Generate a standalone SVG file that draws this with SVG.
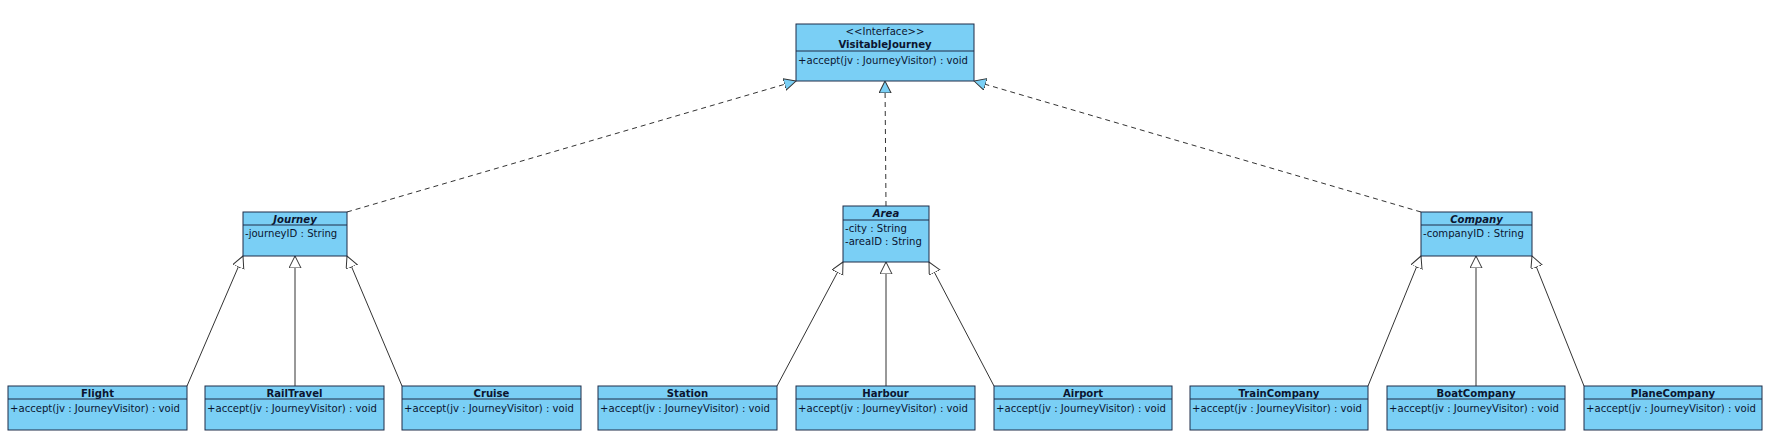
<svg xmlns="http://www.w3.org/2000/svg" width="1769" height="443" viewBox="0 0 1769 443">
<style>
.box{fill:#7ACFF5;stroke:#1E2C48;stroke-width:1}
.sep{stroke:#1E2C48;stroke-width:1}
text{font-family:"DejaVu Sans","Liberation Sans",Arial,sans-serif;font-size:10.1px;fill:#0B1530}
.nm{font-weight:bold;text-anchor:middle}
.it{font-style:italic}
.st{text-anchor:middle}
.gen{stroke:#333;stroke-width:1;fill:none;marker-end:url(#tri)}
.real{stroke:#333;stroke-width:1;fill:none;stroke-dasharray:5,4;marker-end:url(#tri2)}
</style>
<defs>
<marker id="tri" markerUnits="userSpaceOnUse" markerWidth="14" markerHeight="14" refX="12" refY="6" orient="auto">
<path d="M12,6 L0,0 L0,12 Z" fill="#fff" stroke="#333" stroke-width="1"/>
</marker>
<marker id="tri2" markerUnits="userSpaceOnUse" markerWidth="14" markerHeight="14" refX="12" refY="6" orient="auto">
<path d="M12,6 L0,0 L0,12 Z" fill="#7ACFF5" stroke="#333" stroke-width="1"/>
</marker>
</defs>
<rect width="1769" height="443" fill="#fff"/>
<g id="connectors">
<path class="real" d="M347,212 L796,81"/>
<path class="real" d="M886,206 L885,81"/>
<path class="real" d="M1421,212 L974,81"/>
<path class="gen" d="M187,386 L243,256"/>
<path class="gen" d="M295,386 L295,256"/>
<path class="gen" d="M402,386 L347,256"/>
<path class="gen" d="M777,386 L843,262"/>
<path class="gen" d="M886,386 L886,262"/>
<path class="gen" d="M994,386 L929,262"/>
<path class="gen" d="M1368,386 L1421,256"/>
<path class="gen" d="M1476,386 L1476,256"/>
<path class="gen" d="M1584,386 L1532,256"/>
</g>
<g id="VisitableJourney">
<rect class="box" x="796" y="24" width="178" height="57"/>
<line class="sep" x1="796" y1="51" x2="974" y2="51"/>
<text class="st" x="885" y="35">&lt;&lt;Interface&gt;&gt;</text>
<text class="nm" x="885" y="47.5">VisitableJourney</text>
<text x="798" y="64">+accept(jv : JourneyVisitor) : void</text>
</g>
<g id="Journey">
<rect class="box" x="243" y="212" width="104" height="44"/>
<line class="sep" x1="243" y1="225" x2="347" y2="225"/>
<text class="nm it" x="295" y="222.5">Journey</text>
<text x="245" y="237">-journeyID : String</text>
</g>
<g id="Area">
<rect class="box" x="843" y="206" width="86" height="56"/>
<line class="sep" x1="843" y1="220" x2="929" y2="220"/>
<text class="nm it" x="886" y="216.5">Area</text>
<text x="845" y="232">-city : String</text>
<text x="845" y="245">-areaID : String</text>
</g>
<g id="Company">
<rect class="box" x="1421" y="212" width="111" height="44"/>
<line class="sep" x1="1421" y1="225" x2="1532" y2="225"/>
<text class="nm it" x="1476.5" y="222.5">Company</text>
<text x="1423" y="237">-companyID : String</text>
</g>
<g id="Flight">
<rect class="box" x="8" y="386" width="179" height="44"/>
<line class="sep" x1="8" y1="399" x2="187" y2="399"/>
<text class="nm" x="97.5" y="397">Flight</text>
<text x="10" y="412">+accept(jv : JourneyVisitor) : void</text>
</g>
<g id="RailTravel">
<rect class="box" x="205" y="386" width="179" height="44"/>
<line class="sep" x1="205" y1="399" x2="384" y2="399"/>
<text class="nm" x="294.5" y="397">RailTravel</text>
<text x="207" y="412">+accept(jv : JourneyVisitor) : void</text>
</g>
<g id="Cruise">
<rect class="box" x="402" y="386" width="179" height="44"/>
<line class="sep" x1="402" y1="399" x2="581" y2="399"/>
<text class="nm" x="491.5" y="397">Cruise</text>
<text x="404" y="412">+accept(jv : JourneyVisitor) : void</text>
</g>
<g id="Station">
<rect class="box" x="598" y="386" width="179" height="44"/>
<line class="sep" x1="598" y1="399" x2="777" y2="399"/>
<text class="nm" x="687.5" y="397">Station</text>
<text x="600" y="412">+accept(jv : JourneyVisitor) : void</text>
</g>
<g id="Harbour">
<rect class="box" x="796" y="386" width="179" height="44"/>
<line class="sep" x1="796" y1="399" x2="975" y2="399"/>
<text class="nm" x="885.5" y="397">Harbour</text>
<text x="798" y="412">+accept(jv : JourneyVisitor) : void</text>
</g>
<g id="Airport">
<rect class="box" x="994" y="386" width="178" height="44"/>
<line class="sep" x1="994" y1="399" x2="1172" y2="399"/>
<text class="nm" x="1083" y="397">Airport</text>
<text x="996" y="412">+accept(jv : JourneyVisitor) : void</text>
</g>
<g id="TrainCompany">
<rect class="box" x="1190" y="386" width="178" height="44"/>
<line class="sep" x1="1190" y1="399" x2="1368" y2="399"/>
<text class="nm" x="1279" y="397">TrainCompany</text>
<text x="1192" y="412">+accept(jv : JourneyVisitor) : void</text>
</g>
<g id="BoatCompany">
<rect class="box" x="1387" y="386" width="178" height="44"/>
<line class="sep" x1="1387" y1="399" x2="1565" y2="399"/>
<text class="nm" x="1476" y="397">BoatCompany</text>
<text x="1389" y="412">+accept(jv : JourneyVisitor) : void</text>
</g>
<g id="PlaneCompany">
<rect class="box" x="1584" y="386" width="178" height="44"/>
<line class="sep" x1="1584" y1="399" x2="1762" y2="399"/>
<text class="nm" x="1673" y="397">PlaneCompany</text>
<text x="1586" y="412">+accept(jv : JourneyVisitor) : void</text>
</g>
</svg>
